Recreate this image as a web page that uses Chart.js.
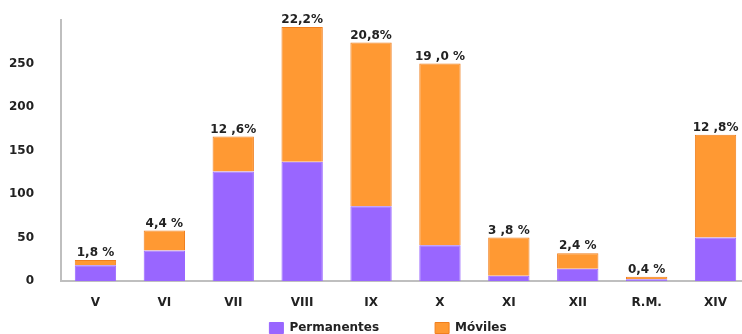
<!DOCTYPE html>
<html>
<head>
<meta charset="utf-8">
<script src="https://cdn.jsdelivr.net/npm/chart.js@4.4.1/dist/chart.umd.min.js"></script>
<style>
    html, body { margin: 0; padding: 0; background: #fff; overflow: hidden; }
    #wrap { position: relative; width: 752px; height: 347px; }
</style>
</head>
<body>
<div id="wrap"><canvas id="regionChart"></canvas></div>
<script>
const regions = ['V', 'VI', 'VII', 'VIII', 'IX', 'X', 'XI', 'XII', 'R.M.', 'XIV'];
const permanentes = [18, 35, 126, 137, 86, 41, 6, 14, 2, 50];
const moviles = [6, 23, 40, 155, 188, 209, 44, 18, 3, 118];
const shareLabels = ['1,8 %', '4,4 %', '12 ,6%', '22,2%', '20,8%', '19 ,0 %', '3 ,8 %', '2,4 %', '0,4 %', '12 ,8%'];

const labelFont = { family: 'DejaVu Sans', weight: 'bold', size: 12 };

// percentage above each stacked column
const shareLabelPlugin = {
    id: 'shareLabels',
    afterDatasetsDraw(chart) {
        const ctx = chart.ctx;
        const meta = chart.getDatasetMeta(1);
        ctx.save();
        ctx.font = 'bold 12px "DejaVu Sans"';
        ctx.fillStyle = '#222';
        ctx.textAlign = 'center';
        ctx.textBaseline = 'alphabetic';
        meta.data.forEach((bar, i) => {
            ctx.fillText(shareLabels[i], bar.x, bar.y - 4);
        });
        ctx.restore();
    }
};

// keep the legend low and wide-spaced without eating the plot height
const legendSpacing = {
    id: 'legendSpacing',
    beforeInit(chart) {
        const legend = chart.legend;
        const fit = legend.fit;
        legend.fit = function () {
            fit.call(this);
            this.height = 34;
        };
        const draw = legend.draw;
        legend.draw = function () {
            const { top, left, right } = this;
            this.top = top + 9 - this.options.labels.padding;
            this.left = left + 13;
            this.right = right + 13;
            draw.call(this);
            this.top = top;
            this.left = left;
            this.right = right;
        };
    }
};

const ctx = document.getElementById('regionChart').getContext('2d');
new Chart(ctx, {
    type: 'bar',
    data: {
        labels: regions,
        datasets: [{
            label: 'Permanentes',
            data: permanentes,
            backgroundColor: '#9966FF',
            borderColor: '#9966FF',
            borderWidth: 1,
            barPercentage: 0.6,
            categoryPercentage: 1
        }, {
            label: 'Móviles',
            data: moviles,
            backgroundColor: '#FF9933',
            borderColor: '#F07F1E',
            borderWidth: 1,
            barPercentage: 0.6,
            categoryPercentage: 1
        }]
    },
    options: {
        responsive: true,
        maintainAspectRatio: false,
        animation: false,
        layout: { padding: { top: 20, right: 2, left: 0, bottom: 0 } },
        scales: {
            x: {
                stacked: true,
                grid: { display: false },
                border: { color: '#bfbfbf', width: 2 },
                ticks: { color: '#222', font: labelFont, padding: 7 },
                afterFit(scale) { scale.height = 32; }
            },
            y: {
                stacked: true,
                min: 0,
                max: 300,
                grid: { display: false },
                border: { color: '#bfbfbf', width: 2 },
                ticks: {
                    stepSize: 50,
                    color: '#222',
                    font: labelFont,
                    padding: 19,
                    callback: v => (v === 300 ? '' : v)
                },
                afterFit(scale) {
                    scale.width = 61;
                    scale.paddingTop = 0;
                    scale.paddingBottom = 0;
                }
            }
        },
        plugins: {
            legend: {
                position: 'bottom',
                labels: {
                    color: '#222',
                    font: labelFont,
                    boxWidth: 14,
                    boxHeight: 11,
                    padding: 56
                }
            },
            tooltip: { enabled: false }
        }
    },
    plugins: [shareLabelPlugin, legendSpacing]
});
</script>
</body>
</html>
